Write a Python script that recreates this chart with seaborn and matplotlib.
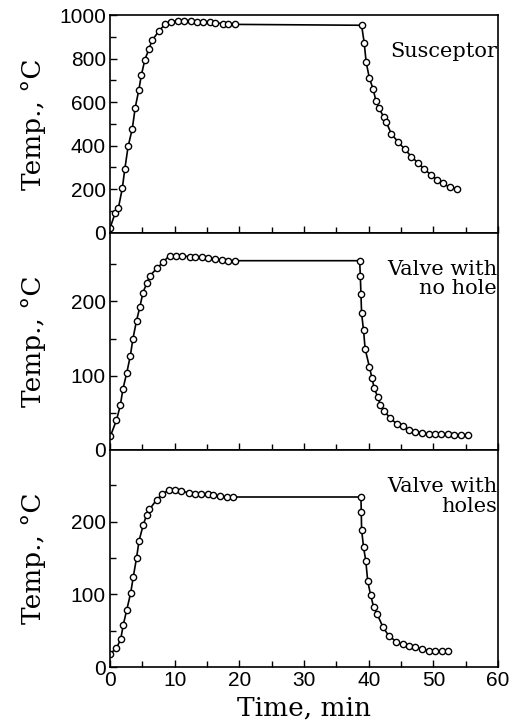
import numpy as np
import pandas as pd
import matplotlib
matplotlib.use("Agg")
import matplotlib.pyplot as plt
from matplotlib.ticker import MultipleLocator
import seaborn as sns

# Susceptor temperature readings (time in min, temp in C)
susceptor_time = [0.0, 0.8, 1.3, 1.9, 2.3, 2.8, 3.45, 3.9, 4.45, 4.85, 5.4, 6.0, 6.5,
                  7.6, 8.5, 9.4, 10.5, 11.4, 12.5, 13.4, 14.4, 15.4, 16.3, 17.4, 18.3, 19.4,
                  38.9, 39.3, 39.6, 40.1, 40.7, 41.1, 41.6, 42.3, 42.7, 43.5, 44.6, 45.6,
                  46.6, 47.6, 48.5, 49.6, 50.6, 51.5, 52.5, 53.7]
susceptor_temp = [20, 90, 113, 203, 294, 396, 478, 575, 655, 725, 796, 843, 884,
                  929, 958, 970, 975, 975, 975, 970, 970, 968, 965, 962, 958, 958,
                  954, 874, 785, 711, 659, 607, 572, 533, 509, 454, 415, 383,
                  349, 321, 294, 266, 242, 226, 208, 200]

# Valve with no hole
nohole_time = [0.05, 1.0, 1.6, 2.0, 2.6, 3.15, 3.55, 4.1, 4.6, 5.1, 5.7, 6.2, 7.3,
               8.2, 9.2, 10.2, 11.2, 12.3, 13.2, 14.2, 15.2, 16.2, 17.3, 18.3, 19.3,
               38.6, 38.7, 38.8, 38.9, 39.2, 39.45, 40.1, 40.5, 40.85, 41.4, 41.8, 42.4,
               43.3, 44.3, 45.3, 46.3, 47.2, 48.2, 49.3, 50.3, 51.2, 52.3, 53.2, 54.2, 55.3]
nohole_temp = [18, 40, 60, 82, 104, 127, 150, 174, 192, 212, 225, 235, 245,
               253, 262, 262, 262, 260, 260, 260, 258, 257, 256, 255, 255,
               255, 235, 210, 184, 161, 136, 112, 97, 83, 71, 61, 52,
               43, 35, 32, 26, 24, 23, 21, 21, 21, 21, 20, 20, 20]

# Valve with holes
holes_time = [0.0, 1.0, 1.65, 2.05, 2.6, 3.2, 3.6, 4.1, 4.5, 5.15, 5.65, 6.1, 7.2,
              8.1, 9.15, 10.1, 11.0, 12.15, 13.2, 14.1, 15.1, 16.0, 17.0, 18.05, 19.0,
              38.8, 38.85, 38.9, 39.2, 39.55, 39.85, 40.3, 40.75, 41.3, 42.2, 43.1,
              44.25, 45.25, 46.3, 47.2, 48.3, 49.3, 50.3, 51.3, 52.2]
holes_temp = [18, 26, 38, 58, 79, 102, 124, 150, 174, 196, 209, 217, 230,
              238, 244, 244, 242, 240, 238, 238, 238, 237, 235, 234, 234,
              234, 213, 189, 165, 146, 118, 99, 83, 73, 55, 43,
              35, 31, 29, 27, 25, 22, 22, 22, 22]

panel_names = ["Susceptor", "Valve with\nno hole", "Valve with\nholes"]
panel_ylims = [(0, 1000), (0, 293), (0, 299)]
panel_major = [200, 100, 100]
panel_minor = [100, 50, 50]

series = [(susceptor_time, susceptor_temp),
          (nohole_time, nohole_temp),
          (holes_time, holes_temp)]

sns.set_style("ticks")
plt.rcParams['font.family'] = ['Liberation Sans', 'DejaVu Sans']
plt.rcParams['text.color'] = 'black'
plt.rcParams['axes.labelcolor'] = 'black'
plt.rcParams['xtick.color'] = 'black'
plt.rcParams['ytick.color'] = 'black'

fig, axes = plt.subplots(3, 1, sharex=True, figsize=(5.14, 7.27), dpi=100)
fig.subplots_adjust(left=0.214, right=0.969, top=0.979, bottom=0.0825, hspace=0)

for ax, (t, temp), name, ylim, maj, mnr in zip(axes, series, panel_names,
                                              panel_ylims, panel_major, panel_minor):
    df = pd.DataFrame({"time": t, "temp": temp})
    sns.lineplot(data=df, x="time", y="temp", ax=ax, color="black", linewidth=1.2,
                 marker="o", markersize=4.5, markerfacecolor="white",
                 markeredgecolor="black", markeredgewidth=1.0,
                 sort=False, estimator=None)
    ax.set_xlim(0, 60)
    ax.set_ylim(*ylim)
    ax.yaxis.set_major_locator(MultipleLocator(maj))
    ax.yaxis.set_minor_locator(MultipleLocator(mnr))
    ax.xaxis.set_major_locator(MultipleLocator(10))
    ax.xaxis.set_minor_locator(MultipleLocator(5))
    ax.tick_params(which="both", direction="in", labelsize=15, width=1.0,
                   top=False, right=False, pad=3)
    ax.tick_params(which="major", length=5)
    ax.tick_params(which="minor", length=4)
    for sp in ax.spines.values():
        sp.set_linewidth(1.2)
        sp.set_color("black")
    ax.set_ylabel("Temp., °C", family="DejaVu Serif", fontsize=19)
    ax.yaxis.set_label_coords(-0.165, 0.5)
    ax.set_xlabel("")
    ax.text(0.997, 0.875, name, transform=ax.transAxes, ha="right", va="top",
            family="DejaVu Serif", fontsize=15, linespacing=1.05, color="black")

axes[2].set_xlabel("Time, min", family="DejaVu Serif", fontsize=19, labelpad=4)

fig.savefig("out.png", dpi=100)
